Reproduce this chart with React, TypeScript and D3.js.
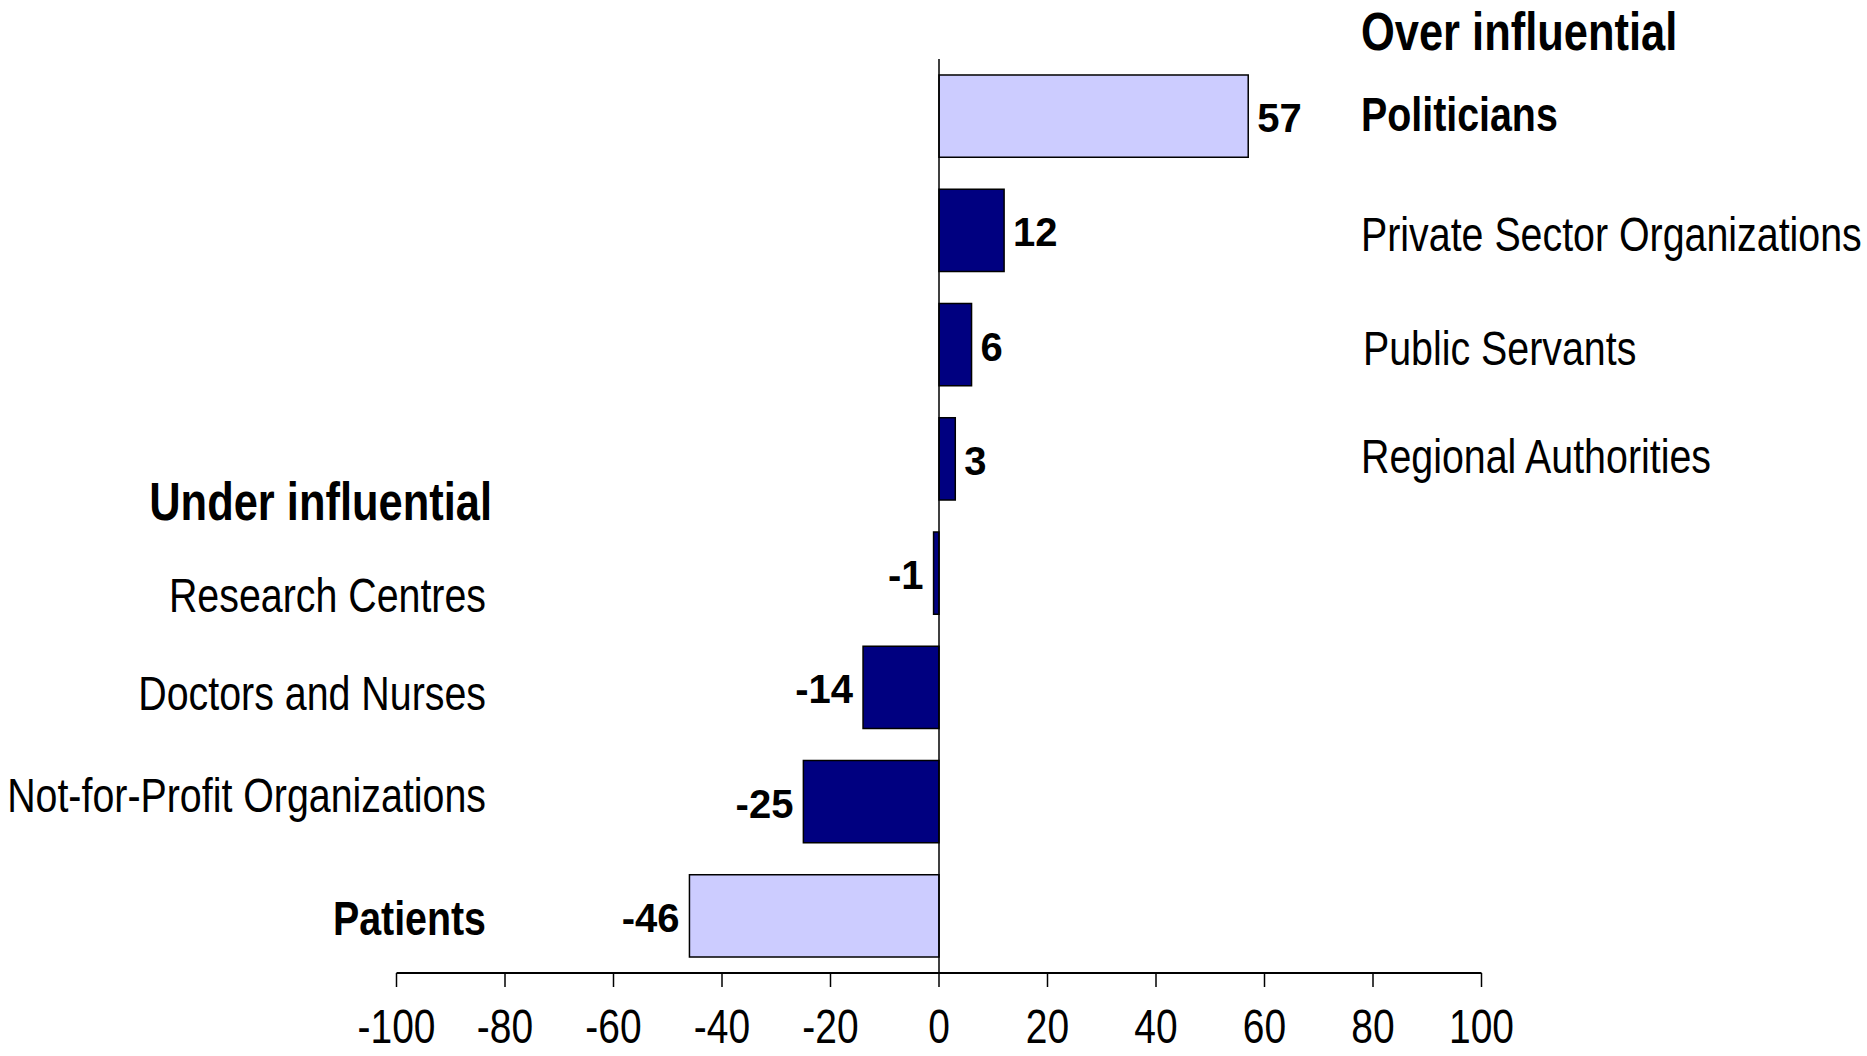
import React from "react";
import * as d3 from "d3";

// ---- data ----
const categories = [
  "Politicians",
  "Private Sector Organizations",
  "Public Servants",
  "Regional Authorities",
  "Research Centres",
  "Doctors and Nurses",
  "Not-for-Profit Organizations",
  "Patients",
];
const values = [57, 12, 6, 3, -1, -14, -25, -46];
const highlighted = [true, false, false, false, false, false, false, true];
const tickValues = [-100, -80, -60, -40, -20, 0, 20, 40, 60, 80, 100];
const overTitle = "Over influential";
const underTitle = "Under influential";

// ---- layout ----
const W = 1867;
const H = 1056;
const X0 = 396.5;
const X1 = 1481.5;
const Y0 = 59;
const Y1 = 973;
const SANS = "'Liberation Sans', Arial, sans-serif";
const NARROW_SCALE = 0.82;
// baselines of the free-standing category labels
const labelBaselines = [131, 251, 365, 473, 612, 710, 812, 935];

function NarrowText(props: {
  x: number;
  y: number;
  anchor?: "start" | "middle" | "end";
  size: number;
  bold?: boolean;
  children: React.ReactNode;
}) {
  const { x, y, anchor = "start", size, bold, children } = props;
  return (
    <g transform={`translate(${x},${y}) scale(${NARROW_SCALE},1)`}>
      <text
        x={0}
        y={0}
        textAnchor={anchor}
        fontFamily={SANS}
        fontWeight={bold ? "bold" : "normal"}
        fontSize={size}
        fill="#000"
      >
        {children}
      </text>
    </g>
  );
}

export default function App() {
  const x = d3.scaleLinear().domain([-100, 100]).range([X0, X1]);
  const y = d3
    .scaleBand<string>()
    .domain(categories)
    .range([Y0, Y1])
    .paddingInner(0.28)
    .paddingOuter(0.14);
  const bw = y.bandwidth();

  return (
    <svg
      width={W}
      height={H}
      style={{ position: "absolute", left: 0, top: 0, background: "#fff" }}
    >
      {/* bars */}
      {categories.map((c, i) => {
        const v = values[i];
        const xa = x(Math.min(0, v));
        const xb = x(Math.max(0, v));
        return (
          <rect
            key={c}
            x={xa}
            y={y(c)!}
            width={xb - xa}
            height={bw}
            fill={highlighted[i] ? "#CCCCFF" : "#000080"}
            stroke="#000"
            strokeWidth={1.5}
          />
        );
      })}

      {/* vertical zero line */}
      <line x1={x(0)} x2={x(0)} y1={Y0} y2={Y1} stroke="#000" strokeWidth={1.5} />

      {/* x axis */}
      <line x1={X0} x2={X1} y1={Y1} y2={Y1} stroke="#000" strokeWidth={2} />
      {tickValues.map((t) => (
        <g key={t}>
          <line x1={x(t)} x2={x(t)} y1={Y1} y2={Y1 + 14} stroke="#000" strokeWidth={1.5} />
          <NarrowText x={x(t)} y={1043} anchor="middle" size={47.5}>
            {t}
          </NarrowText>
        </g>
      ))}

      {/* value labels */}
      {categories.map((c, i) => {
        const v = values[i];
        const cy = y(c)! + bw / 2 + 16;
        return (
          <text
            key={c + "v"}
            x={v >= 0 ? x(v) + 9 : x(v) - 10}
            y={cy}
            textAnchor={v >= 0 ? "start" : "end"}
            fontFamily={SANS}
            fontWeight="bold"
            fontSize={40}
            fill="#000"
          >
            {v}
          </text>
        );
      })}

      {/* titles */}
      <NarrowText x={1361} y={50} size={53} bold>
        {overTitle}
      </NarrowText>
      <NarrowText x={492} y={520} anchor="end" size={53} bold>
        {underTitle}
      </NarrowText>

      {/* category labels */}
      {categories.map((c, i) => {
        const right = values[i] >= 0;
        return (
          <NarrowText
            key={c + "l"}
            x={right ? (i === 2 ? 1363 : 1361) : 486}
            y={labelBaselines[i]}
            anchor={right ? "start" : "end"}
            size={48}
            bold={highlighted[i]}
          >
            {c}
          </NarrowText>
        );
      })}
    </svg>
  );
}
